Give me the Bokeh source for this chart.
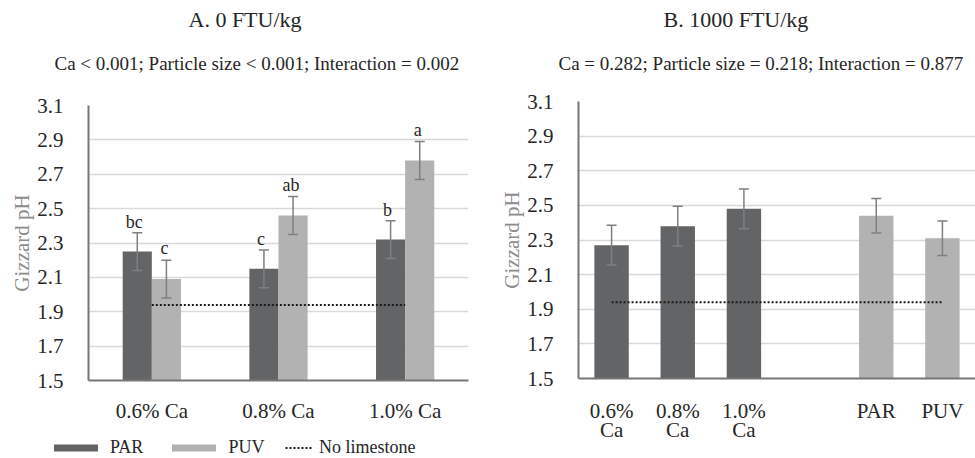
from bokeh.plotting import figure
from bokeh.models import (ColumnDataSource, FactorRange, Range1d, FixedTicker,
                          Whisker, TeeHead, Legend, LegendItem, Title)
from bokeh.transform import dodge
from bokeh.layouts import row, column
from bokeh.embed import file_html
from bokeh.resources import INLINE
from bokeh.core.properties import value

# ---------------- data ----------------
ca_levels = ["0.6% Ca", "0.8% Ca", "1.0% Ca"]
par_a = [2.25, 2.15, 2.32]
par_a_se = [0.11, 0.11, 0.11]
puv_a = [2.09, 2.46, 2.78]
puv_a_se = [0.11, 0.11, 0.11]
par_a_letters = ["bc", "c", "b"]
puv_a_letters = ["c", "ab", "a"]
no_limestone = 1.94

b_ca_labels = ["0.6%\nCa", "0.8%\nCa", "1.0%\nCa"]
b_ca_vals = [2.27, 2.38, 2.48]
b_ca_se = [0.115, 0.115, 0.115]
b_size_labels = ["PAR", "PUV"]
b_size_vals = [2.44, 2.31]
b_size_se = [0.10, 0.10]

y_ticks = [1.5, 1.7, 1.9, 2.1, 2.3, 2.5, 2.7, 2.9, 3.1]
title_a = "A. 0 FTU/kg"
sub_a = "Ca < 0.001; Particle size < 0.001; Interaction = 0.002"
title_b = "B. 1000 FTU/kg"
sub_b = "Ca = 0.282; Particle size = 0.218; Interaction = 0.877"
legend_labels = ["PAR", "PUV", "No limestone"]

# ---------------- styles ----------------
FONT = "Liberation Serif"
TXT = "#262626"
DARK = "#636466"
LIGHT = "#b2b2b2"
ERR = "#7f7f7f"
GRID = "#d9d9d9"
AXIS = "#767676"


def style(p, xstand):
    p.outline_line_color = None
    p.xgrid.grid_line_color = None
    p.ygrid.grid_line_color = GRID
    p.ygrid.grid_line_width = 1.5
    p.yaxis.ticker = FixedTicker(ticks=y_ticks)
    for ax in (p.xaxis[0], p.yaxis[0]):
        ax.axis_line_color = AXIS
        ax.axis_line_width = 2
        ax.major_tick_line_color = None
        ax.minor_tick_line_color = None
        ax.major_label_text_font = FONT
        ax.major_label_text_font_size = "21px"
        ax.major_label_text_color = TXT
    p.xaxis.major_label_text_line_height = 0.8
    p.yaxis.major_label_standoff = 19
    p.xaxis.major_label_standoff = xstand
    p.yaxis.axis_label = "Gizzard pH"
    p.yaxis.axis_label_text_font = FONT
    p.yaxis.axis_label_text_font_size = "21px"
    p.yaxis.axis_label_text_font_style = "normal"
    p.yaxis.axis_label_text_color = "#8c8c8c"
    p.yaxis.axis_label_standoff = 0


def add_titles(p, title, sub, off_t, off_s, gap):
    # spacer between frame and subtitle
    p.add_layout(Title(text=" ", standoff=gap, text_font_size="2px"), "above")
    p.add_layout(Title(text=sub, align="left", offset=off_s, standoff=0,
                       text_font=FONT, text_font_size="19px",
                       text_font_style="normal", text_color=TXT), "above")
    # spacer between subtitle and title
    p.add_layout(Title(text=" ", standoff=15, text_font_size="2px"), "above")
    p.add_layout(Title(text=title, align="left", offset=off_t, standoff=0,
                       text_font=FONT, text_font_size="22px",
                       text_font_style="normal", text_color=TXT), "above")


# ---------------- panel A ----------------
pa = figure(x_range=FactorRange(factors=ca_levels), y_range=Range1d(1.5, 3.1),
            width=480, height=428, output_backend="svg", toolbar_location=None,
            title=None, min_border_left=88, min_border_right=12,
            min_border_top=105, min_border_bottom=48)
style(pa, 12)

src_a = ColumnDataSource(dict(
    ca=ca_levels,
    par=par_a, par_up=[v + e for v, e in zip(par_a, par_a_se)],
    par_lo=[v - e for v, e in zip(par_a, par_a_se)],
    puv=puv_a, puv_up=[v + e for v, e in zip(puv_a, puv_a_se)],
    puv_lo=[v - e for v, e in zip(puv_a, puv_a_se)],
    par_lab=par_a_letters, puv_lab=puv_a_letters,
    nolime=[no_limestone] * len(ca_levels),
))

d_par = dodge("ca", -0.115, range=pa.x_range)
d_puv = dodge("ca", 0.115, range=pa.x_range)

pa.vbar(x=d_par, top="par", bottom=1.5, width=0.23, source=src_a,
        fill_color=DARK, line_color=None)
pa.vbar(x=d_puv, top="puv", bottom=1.5, width=0.23, source=src_a,
        fill_color=LIGHT, line_color=None)

for base, up, lo in ((d_par, "par_up", "par_lo"), (d_puv, "puv_up", "puv_lo")):
    w = Whisker(source=src_a, base=base, upper=up, lower=lo,
                line_color=ERR, line_width=1.5, level="annotation",
                upper_head=TeeHead(size=10, line_color=ERR, line_width=1.5),
                lower_head=TeeHead(size=10, line_color=ERR, line_width=1.5))
    pa.add_layout(w)

pa.text(x=d_par, y="par_up", text="par_lab", source=src_a, text_align="center",
        text_baseline="alphabetic", y_offset=-11, x_offset=-3,
        text_font=value(FONT), text_font_size="18px", text_color=TXT)
pa.text(x=d_puv, y="puv_up", text="puv_lab", source=src_a, text_align="center",
        text_baseline="alphabetic", y_offset=-12, x_offset=-2,
        text_font=value(FONT), text_font_size="18px", text_color=TXT)

pa.line(x="ca", y="nolime", source=src_a, line_color="#1a1a1a",
        line_width=2, line_dash="2 2")

add_titles(pa, title_a, sub_a, 100, -34, 28)

# ---------------- legend strip under panel A ----------------
# invisible stand-in renderers (outside the strip's ranges) that only give
# the legends their swatches
leg = figure(width=480, height=30, output_backend="svg", toolbar_location=None,
             title=None, x_axis_location=None, y_axis_location=None,
             x_range=Range1d(0, 1), y_range=Range1d(0, 1),
             min_border=0, min_border_left=0, min_border_right=0,
             min_border_top=0, min_border_bottom=0,
             outline_line_color=None)
leg.frame_align = False
leg.grid.visible = False
g_par = leg.vbar(x=[-5], top=[-5], bottom=-6, width=0.1,
                 fill_color=DARK, line_color=None)
g_puv = leg.vbar(x=[-5], top=[-5], bottom=-6, width=0.1,
                 fill_color=LIGHT, line_color=None)
g_lime = leg.line(x=[-6, -5], y=[-5, -5], line_color="#1a1a1a",
                  line_width=2, line_dash="2 2")

common = dict(orientation="horizontal", glyph_height=9, label_height=9,
              label_standoff=7, spacing=23, padding=0, margin=0,
              border_line_color=None, background_fill_alpha=0,
              label_text_font=FONT, label_text_font_size="18px",
              label_text_color=TXT)
legend1 = Legend(items=[LegendItem(label=legend_labels[0], renderers=[g_par]),
                        LegendItem(label=legend_labels[1], renderers=[g_puv])],
                 location=(48, 0), glyph_width=55, **common)
legend2 = Legend(items=[LegendItem(label=legend_labels[2], renderers=[g_lime])],
                 location=(285, 0), glyph_width=27, **common)
leg.add_layout(legend1, "center")
leg.add_layout(legend2, "center")

# ---------------- panel B ----------------
b_cats = b_ca_labels + [" "] + b_size_labels
pb = figure(x_range=FactorRange(factors=b_cats), y_range=Range1d(1.5, 3.1),
            width=495, height=458, output_backend="svg", toolbar_location=None,
            title=None, min_border_left=98, min_border_right=0,
            min_border_top=101, min_border_bottom=80)
style(pb, 14)

src_bc = ColumnDataSource(dict(
    x=b_ca_labels, top=b_ca_vals,
    up=[v + e for v, e in zip(b_ca_vals, b_ca_se)],
    lo=[v - e for v, e in zip(b_ca_vals, b_ca_se)]))
src_bs = ColumnDataSource(dict(
    x=b_size_labels, top=b_size_vals,
    up=[v + e for v, e in zip(b_size_vals, b_size_se)],
    lo=[v - e for v, e in zip(b_size_vals, b_size_se)]))

pb.vbar(x="x", top="top", bottom=1.5, width=0.52, source=src_bc,
        fill_color=DARK, line_color=None)
pb.vbar(x="x", top="top", bottom=1.5, width=0.52, source=src_bs,
        fill_color=LIGHT, line_color=None)
for s in (src_bc, src_bs):
    pb.add_layout(Whisker(source=s, base="x", upper="up", lower="lo",
                          line_color=ERR, line_width=1.5, level="annotation",
                          upper_head=TeeHead(size=10, line_color=ERR, line_width=1.5),
                          lower_head=TeeHead(size=10, line_color=ERR, line_width=1.5)))

pb.line(x=b_cats, y=[no_limestone] * len(b_cats), line_color="#1a1a1a",
        line_width=2, line_dash="2 2")

add_titles(pb, title_b, sub_b, 85, -20, 24)

layout = row(column(pa, leg), pb)
open("out.html", "w").write(file_html(layout, INLINE))
